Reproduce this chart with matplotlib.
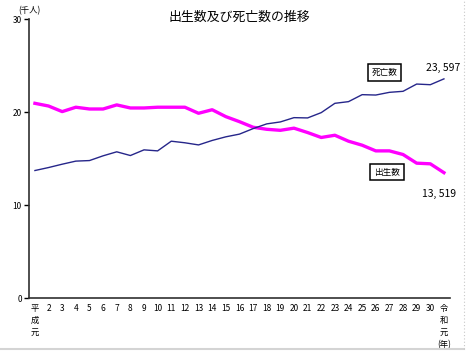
import matplotlib
matplotlib.use("Agg")
from matplotlib import pyplot as plt
from matplotlib.lines import Line2D

plt.rcParams["font.family"] = ["Liberation Sans Narrow", "Noto Sans CJK JP", "DejaVu Sans"]

# 平成元年 .. 令和元年, in thousands
year_labels = ["平\n成\n元"] + [str(i) for i in range(2, 31)] + ["令\n和\n元\n(年)"]
births = [20.97, 20.68, 20.08, 20.55, 20.36, 20.36, 20.80, 20.47, 20.47, 20.55,
          20.55, 20.55, 19.90, 20.28, 19.54, 19.00, 18.40, 18.18, 18.07, 18.30,
          17.83, 17.30, 17.54, 16.90, 16.47, 15.86, 15.86, 15.47, 14.54, 14.47,
          13.519]
deaths = [13.75, 14.07, 14.43, 14.76, 14.82, 15.33, 15.76, 15.36, 15.97, 15.86,
          16.90, 16.73, 16.50, 16.98, 17.37, 17.66, 18.25, 18.76, 18.97, 19.43,
          19.40, 19.97, 20.97, 21.15, 21.90, 21.86, 22.15, 22.26, 23.04, 22.97,
          23.597]
y_ticks = [0, 10, 20, 30]

x = list(range(1, len(year_labels) + 1))

fig = plt.figure(figsize=(4.77, 3.53), dpi=100)
ax = fig.add_axes([0.0618, 0.1544, 0.8826, 0.791])

ax.plot(x, births, color="#ff00ff", lw=2.4, solid_joinstyle="round")
ax.plot(x, deaths, color="#26268a", lw=1.0)

ax.set_xlim(0.6, 31.48)
ax.set_ylim(0, 30)
ax.set_yticks(y_ticks)
ax.set_xticks(x, labels=year_labels)
for lbl in ax.get_xticklabels():
    lbl.set_linespacing(1.42)
    lbl.set_verticalalignment("top")
ax.tick_params(axis="x", length=0, pad=4, labelsize=6)
ax.tick_params(axis="y", length=3.5, width=1.0, pad=2, labelsize=6, direction="out")

for side in ["top", "right"]:
    ax.spines[side].set_visible(False)
for side in ["left", "bottom"]:
    ax.spines[side].set_linewidth(1.2)
    ax.spines[side].set_color("#303030")

ax.text(0.0, 1.029, "(千人)", transform=ax.transAxes, fontsize=6,
        ha="center", va="center")
fig.text(0.501, 0.952, "出生数及び死亡数の推移", fontsize=9.3, ha="center",
         va="center", family=["Noto Sans CJK JP", "DejaVu Sans"])

box = dict(boxstyle="square,pad=0.45", fc="white", ec="black", lw=1.1)
ax.text(26.64, 24.28, "死亡数", fontsize=6.2, ha="center", va="center", bbox=box,
        family=["Noto Sans CJK JP", "DejaVu Sans"])
ax.text(26.83, 13.59, "出生数", fontsize=6.2, ha="center", va="center", bbox=box,
        family=["Noto Sans CJK JP", "DejaVu Sans"])

ax.annotate("23, 597", xy=(x[-1], deaths[-1]), xytext=(-0.7, 7.8),
            textcoords="offset points", fontsize=7.5, ha="center", va="center")
ax.annotate("13, 519", xy=(x[-1], births[-1]), xytext=(-3.6, -15),
            textcoords="offset points", fontsize=7.5, ha="center", va="center")

# image frame
fig.add_artist(Line2D([0, 0.9727], [0.0113, 0.0113], color="#d4d4d4", lw=1.5,
                      transform=fig.transFigure))
fig.add_artist(Line2D([0.9727, 0.9727], [0.0113, 1], color="#c8c8c8", lw=0.8,
                      ls=(0, (1, 2)), transform=fig.transFigure))

fig.savefig("out.png", dpi=100)
